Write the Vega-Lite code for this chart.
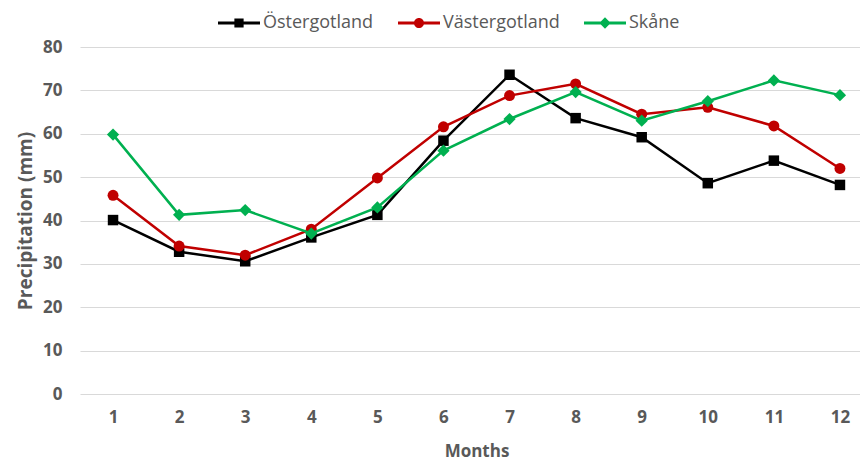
{
  "$schema": "https://vega.github.io/schema/vega-lite/v6.json",
  "width": 793,
  "height": 347,
  "autosize": {"type": "none"},
  "padding": {"left": 80, "top": 47, "right": 0, "bottom": 68},
  "background": "white",
  "config": {"view": {"stroke": null}, "font": "Open Sans"},
  "datasets": {
    "precip": [
      {"month": 1, "region": "Östergotland", "value": 40.1},
      {"month": 2, "region": "Östergotland", "value": 32.8},
      {"month": 3, "region": "Östergotland", "value": 30.6},
      {"month": 4, "region": "Östergotland", "value": 36.1},
      {"month": 5, "region": "Östergotland", "value": 41.3},
      {"month": 6, "region": "Östergotland", "value": 58.4},
      {"month": 7, "region": "Östergotland", "value": 73.6},
      {"month": 8, "region": "Östergotland", "value": 63.6},
      {"month": 9, "region": "Östergotland", "value": 59.2},
      {"month": 10, "region": "Östergotland", "value": 48.6},
      {"month": 11, "region": "Östergotland", "value": 53.8},
      {"month": 12, "region": "Östergotland", "value": 48.2},
      {"month": 1, "region": "Västergotland", "value": 45.8},
      {"month": 2, "region": "Västergotland", "value": 34.1},
      {"month": 3, "region": "Västergotland", "value": 32.0},
      {"month": 4, "region": "Västergotland", "value": 38.0},
      {"month": 5, "region": "Västergotland", "value": 49.8},
      {"month": 6, "region": "Västergotland", "value": 61.6},
      {"month": 7, "region": "Västergotland", "value": 68.8},
      {"month": 8, "region": "Västergotland", "value": 71.5},
      {"month": 9, "region": "Västergotland", "value": 64.5},
      {"month": 10, "region": "Västergotland", "value": 66.1},
      {"month": 11, "region": "Västergotland", "value": 61.8},
      {"month": 12, "region": "Västergotland", "value": 52.0},
      {"month": 1, "region": "Skåne", "value": 59.8},
      {"month": 2, "region": "Skåne", "value": 41.3},
      {"month": 3, "region": "Skåne", "value": 42.4},
      {"month": 4, "region": "Skåne", "value": 37.0},
      {"month": 5, "region": "Skåne", "value": 43.0},
      {"month": 6, "region": "Skåne", "value": 56.1},
      {"month": 7, "region": "Skåne", "value": 63.4},
      {"month": 8, "region": "Skåne", "value": 69.6},
      {"month": 9, "region": "Skåne", "value": 63.0},
      {"month": 10, "region": "Skåne", "value": 67.5},
      {"month": 11, "region": "Skåne", "value": 72.3},
      {"month": 12, "region": "Skåne", "value": 68.9}
    ]
  },
  "data": {"name": "precip"},
  "encoding": {
    "x": {
      "field": "month",
      "type": "ordinal",
      "scale": {"type": "point", "padding": 0.5},
      "axis": {
        "title": "Months",
        "labelAngle": 0,
        "domain": false,
        "ticks": false,
        "grid": false,
        "labelFont": "Open Sans",
        "labelFontSize": 17,
        "labelFontWeight": "bold",
        "labelColor": "#595959",
        "labelPadding": 15,
        "titleFont": "Open Sans",
        "titleFontSize": 17,
        "titleFontWeight": "bold",
        "titleColor": "#595959",
        "titlePadding": 18
      }
    },
    "y": {
      "field": "value",
      "type": "quantitative",
      "scale": {"domain": [0, 80]},
      "axis": {
        "title": "Precipitation (mm)",
        "values": [0, 10, 20, 30, 40, 50, 60, 70, 80],
        "domain": false,
        "ticks": false,
        "grid": true,
        "gridColor": "#d9d9d9",
        "gridWidth": 1,
        "labelFont": "Open Sans",
        "labelFontSize": 17,
        "labelFontWeight": "bold",
        "labelColor": "#595959",
        "labelPadding": 18,
        "titleFont": "Open Sans",
        "titleFontSize": 19,
        "titleFontWeight": "bold",
        "titleColor": "#595959",
        "titlePadding": 7
      }
    }
  },
  "layer": [
    {
      "transform": [{"filter": {"field": "region", "equal": "Östergotland"}}],
      "mark": {"type": "line", "strokeWidth": 2.5, "color": "#000000",
               "point": {"shape": "square", "filled": true, "opacity": 1, "size": 110, "color": "#000000"}}
    },
    {
      "transform": [{"filter": {"field": "region", "equal": "Västergotland"}}],
      "mark": {"type": "line", "strokeWidth": 2.5, "color": "#c00000",
               "point": {"shape": "circle", "filled": true, "opacity": 1, "size": 120, "color": "#c00000"}}
    },
    {
      "transform": [{"filter": {"field": "region", "equal": "Skåne"}}],
      "mark": {"type": "line", "strokeWidth": 2.5, "color": "#00b050",
               "point": {"shape": "diamond", "filled": true, "opacity": 1, "size": 150, "color": "#00b050"}}
    },
    {
      "mark": {"type": "point", "filled": true, "opacity": 0, "strokeWidth": 0},
      "encoding": {
        "color": {
          "field": "region",
          "type": "nominal",
          "scale": {"domain": ["Östergotland", "Västergotland", "Skåne"], "range": ["#000000", "#c00000", "#00b050"]},
          "legend": {
            "orient": "none",
            "legendX": 138,
            "legendY": -45,
            "direction": "horizontal",
            "title": null,
            "labelFont": "Open Sans",
            "labelFontSize": 18,
            "labelColor": "#595959",
            "symbolSize": 1764,
            "symbolStrokeWidth": 0,
            "symbolOpacity": 1,
            "labelOffset": 3,
            "columnPadding": 24,
            "encode": {"symbols": {"update": {"opacity": {"value": 1}}}}
          }
        },
        "shape": {
          "field": "region",
          "type": "nominal",
          "scale": {
            "domain": ["Östergotland", "Västergotland", "Skåne"],
            "range": [
              "M-1,-0.07H1V0.07H-1Z M-0.22,-0.22H0.22V0.22H-0.22Z",
              "M-1,-0.07H1V0.07H-1Z M0.24,0 A0.24,0.24 0 1,1 -0.24,0 A0.24,0.24 0 1,1 0.24,0 Z",
              "M-1,-0.07H1V0.07H-1Z M0,-0.27 L0.27,0 L0,0.27 L-0.27,0 Z"
            ]
          },
          "legend": {
            "orient": "none",
            "legendX": 138,
            "legendY": -45,
            "direction": "horizontal",
            "title": null,
            "labelFont": "Open Sans",
            "labelFontSize": 18,
            "labelColor": "#595959",
            "symbolSize": 1764,
            "symbolStrokeWidth": 0,
            "symbolOpacity": 1,
            "labelOffset": 3,
            "columnPadding": 24,
            "encode": {"symbols": {"update": {"opacity": {"value": 1}}}}
          }
        }
      }
    }
  ]
}
